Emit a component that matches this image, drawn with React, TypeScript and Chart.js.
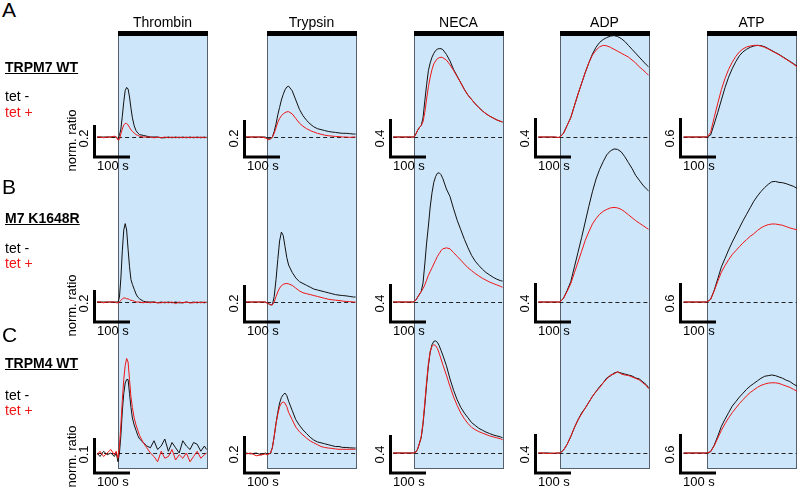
import React, { useEffect, useRef } from "react";
import { Chart, registerables } from "chart.js";

Chart.register(...registerables);

// ---------- labels ----------
const STIMULI = ["Thrombin", "Trypsin", "NECA", "ADP", "ATP"];
const ROW_LETTERS = ["A", "B", "C"];
const CONSTRUCTS = ["TRPM7 WT", "M7 K1648R", "TRPM4 WT"];
const TET_LABELS = ["tet -", "tet +"];
const Y_LABEL = "norm. ratio";
const SCALE_VALUES = [
  [0.2, 0.2, 0.4, 0.4, 0.6],
  [0.2, 0.2, 0.4, 0.4, 0.6],
  [0.1, 0.2, 0.4, 0.4, 0.6],
];
const SCALE_TIME = 100; // s
const TIME_LABEL = "100 s";
const STIM_END = 247; // s, end of agonist application window
const BASE_VALUE = 1.0;

// ---------- data: time (s) ----------
const T_THROMBIN = [-58, -50, -40, -30, -20, -10, -5, 0, 4, 8, 12, 16, 20, 24, 28, 32, 36, 40, 45, 50, 55, 60, 70, 80, 90, 100, 110, 120, 130, 140, 150, 160, 170, 180, 190, 200, 210, 220, 230, 240, 246];
const T_TRYPSIN = [-58, -45, -30, -15, -5, 0, 5, 10, 15, 20, 25, 30, 35, 40, 45, 50, 55, 60, 70, 80, 90, 100, 110, 120, 130, 140, 150, 160, 170, 180, 190, 200, 210, 220, 230, 240, 246];
const T_NECA = [-58, -45, -30, -15, -5, 0, 5, 10, 15, 20, 25, 30, 35, 40, 45, 50, 55, 60, 65, 70, 75, 80, 90, 100, 110, 120, 130, 140, 150, 160, 170, 180, 190, 200, 210, 220, 230, 240, 246];
const T_ADP = [-60, -45, -30, -15, -5, 0, 10, 20, 30, 40, 50, 60, 70, 80, 90, 100, 110, 120, 130, 140, 150, 160, 170, 180, 190, 200, 210, 220, 230, 240, 246];
const T_ATP = [-65, -50, -35, -20, -5, 0, 10, 20, 30, 40, 50, 60, 70, 80, 90, 100, 110, 120, 130, 140, 150, 160, 170, 180, 190, 200, 210, 220, 230, 240, 250];

// ---------- Thrombin ----------
const THR_A_NEG = [1.0, 1.0, 1.0, 1.0, 1.0, 1.0, 1.0, 0.99, 1.01, 1.05, 1.13, 1.22, 1.29, 1.31, 1.30, 1.25, 1.18, 1.12, 1.07, 1.04, 1.025, 1.015, 1.01, 1.005, 1.0, 1.0, 1.0, 0.995, 0.995, 1.0, 0.995, 1.0, 0.995, 1.0, 0.995, 1.0, 0.995, 1.0, 0.995, 1.0, 0.995];
const THR_A_POS = [1.0, 1.0, 0.995, 1.0, 1.0, 1.005, 1.0, 0.98, 0.985, 1.02, 1.05, 1.075, 1.085, 1.085, 1.075, 1.06, 1.045, 1.035, 1.025, 1.015, 1.01, 1.005, 1.0, 1.0, 1.0, 0.995, 1.0, 0.995, 1.0, 0.995, 1.0, 0.995, 1.0, 0.995, 1.0, 0.995, 1.0, 0.995, 1.0, 0.995, 1.0];
const THR_B_NEG = [1.0, 1.0, 1.0, 1.0, 1.0, 1.0, 1.0, 1.0, 1.03, 1.15, 1.32, 1.45, 1.49, 1.45, 1.33, 1.22, 1.14, 1.11, 1.08, 1.05, 1.03, 1.02, 1.005, 1.0, 1.0, 1.0, 0.995, 1.0, 0.995, 1.0, 0.995, 1.0, 0.995, 0.995, 1.0, 0.995, 1.0, 0.995, 1.0, 0.995, 1.0];
const THR_B_POS = [1.0, 1.0, 0.995, 1.0, 1.0, 1.0, 0.995, 0.995, 1.0, 1.01, 1.02, 1.025, 1.025, 1.02, 1.02, 1.015, 1.01, 1.01, 1.005, 1.0, 1.0, 1.0, 0.995, 1.0, 0.995, 1.0, 0.995, 0.995, 1.0, 0.995, 1.0, 0.99, 1.0, 0.995, 1.0, 0.995, 0.995, 1.0, 0.995, 1.0, 0.995];
const THR_C_NEG = [1.0, 0.99, 1.005, 0.995, 1.0, 0.99, 1.0, 0.975, 1.0, 1.05, 1.12, 1.17, 1.20, 1.21, 1.21, 1.17, 1.13, 1.10, 1.08, 1.065, 1.05, 1.04, 1.03, 1.02, 1.015, 1.035, 1.01, 1.02, 1.04, 1.005, 1.03, 1.015, 1.0, 1.035, 1.02, 1.01, 1.03, 1.025, 1.005, 1.02, 1.01];
const THR_C_POS = [0.995, 1.005, 0.99, 1.0, 1.01, 0.995, 1.005, 0.985, 1.02, 1.08, 1.15, 1.21, 1.25, 1.27, 1.26, 1.21, 1.16, 1.13, 1.10, 1.08, 1.065, 1.05, 1.03, 1.015, 1.0, 0.99, 0.975, 1.005, 0.985, 0.99, 1.01, 0.98, 0.995, 0.985, 1.0, 0.975, 0.99, 1.005, 0.985, 0.995, 1.0];

// ---------- Trypsin ----------
const TRY_A_NEG = [1.0, 1.0, 1.0, 1.0, 1.0, 0.995, 0.99, 0.99, 1.0, 1.03, 1.07, 1.12, 1.16, 1.20, 1.23, 1.255, 1.27, 1.275, 1.25, 1.20, 1.15, 1.115, 1.09, 1.07, 1.055, 1.045, 1.04, 1.035, 1.03, 1.027, 1.025, 1.022, 1.02, 1.02, 1.018, 1.016, 1.016];
const TRY_A_POS = [1.0, 1.0, 1.0, 1.0, 0.995, 0.99, 0.985, 0.99, 1.0, 1.02, 1.05, 1.08, 1.10, 1.115, 1.125, 1.132, 1.136, 1.137, 1.125, 1.10, 1.075, 1.058, 1.045, 1.035, 1.027, 1.02, 1.015, 1.01, 1.007, 1.005, 1.003, 1.002, 1.0, 1.0, 0.998, 1.0, 1.0];
const TRY_B_NEG = [1.0, 1.0, 1.0, 1.0, 1.0, 0.995, 0.99, 0.985, 0.985, 1.03, 1.12, 1.23, 1.33, 1.378, 1.36, 1.30, 1.24, 1.20, 1.16, 1.13, 1.11, 1.10, 1.09, 1.08, 1.07, 1.065, 1.06, 1.055, 1.05, 1.045, 1.04, 1.037, 1.035, 1.033, 1.03, 1.027, 1.027];
const TRY_B_POS = [1.0, 1.0, 1.0, 1.0, 1.0, 0.995, 0.99, 0.985, 0.985, 1.0, 1.03, 1.055, 1.075, 1.088, 1.095, 1.099, 1.10, 1.098, 1.09, 1.075, 1.06, 1.05, 1.045, 1.04, 1.035, 1.03, 1.025, 1.02, 1.015, 1.012, 1.01, 1.008, 1.005, 1.003, 1.002, 1.0, 1.0];
const TRY_C_NEG = [1.0, 0.995, 1.0, 0.99, 1.0, 0.995, 0.995, 1.0, 1.03, 1.09, 1.16, 1.22, 1.27, 1.30, 1.315, 1.324, 1.31, 1.28, 1.23, 1.18, 1.15, 1.125, 1.105, 1.085, 1.07, 1.06, 1.055, 1.05, 1.045, 1.04, 1.035, 1.035, 1.03, 1.03, 1.028, 1.027, 1.027];
const TRY_C_POS = [0.995, 1.0, 0.985, 0.99, 0.995, 0.99, 0.995, 1.0, 1.03, 1.09, 1.16, 1.21, 1.25, 1.27, 1.276, 1.27, 1.25, 1.22, 1.18, 1.14, 1.115, 1.097, 1.08, 1.065, 1.055, 1.045, 1.035, 1.03, 1.027, 1.025, 1.022, 1.02, 1.02, 1.02, 1.02, 1.02, 1.02];

// ---------- NECA ----------
const NEC_A_NEG = [1.0, 1.0, 1.0, 1.0, 1.0, 1.0, 1.03, 1.07, 1.10, 1.12, 1.20, 1.38, 1.55, 1.70, 1.78, 1.84, 1.88, 1.91, 1.925, 1.93, 1.93, 1.92, 1.87, 1.80, 1.71, 1.64, 1.57, 1.50, 1.44, 1.395, 1.35, 1.31, 1.275, 1.245, 1.22, 1.20, 1.18, 1.165, 1.158];
const NEC_A_POS = [1.0, 1.0, 1.0, 1.0, 1.0, 1.0, 1.03, 1.07, 1.10, 1.12, 1.16, 1.26, 1.40, 1.53, 1.63, 1.71, 1.77, 1.80, 1.825, 1.835, 1.84, 1.835, 1.81, 1.76, 1.70, 1.635, 1.57, 1.50, 1.44, 1.395, 1.35, 1.31, 1.275, 1.245, 1.22, 1.20, 1.18, 1.165, 1.158];
const NEC_B_NEG = [1.0, 1.0, 1.0, 1.0, 1.0, 1.0, 1.02, 1.05, 1.08, 1.11, 1.20, 1.40, 1.62, 1.80, 2.00, 2.15, 2.26, 2.32, 2.355, 2.36, 2.34, 2.30, 2.19, 2.11, 1.98, 1.86, 1.76, 1.66, 1.57, 1.49, 1.43, 1.385, 1.345, 1.31, 1.285, 1.26, 1.24, 1.225, 1.22];
const NEC_B_POS = [1.0, 1.0, 1.0, 1.0, 1.0, 1.0, 1.02, 1.05, 1.08, 1.11, 1.14, 1.18, 1.23, 1.28, 1.32, 1.36, 1.40, 1.44, 1.48, 1.51, 1.54, 1.56, 1.57, 1.56, 1.52, 1.48, 1.44, 1.40, 1.36, 1.33, 1.30, 1.275, 1.25, 1.23, 1.21, 1.195, 1.18, 1.165, 1.155];
const NEC_C_NEG = [1.0, 1.0, 1.0, 1.0, 1.0, 1.0, 1.01, 1.04, 1.10, 1.16, 1.30, 1.50, 1.72, 1.92, 2.06, 2.14, 2.175, 2.18, 2.165, 2.13, 2.08, 2.03, 1.92, 1.78, 1.66, 1.56, 1.48, 1.42, 1.37, 1.32, 1.29, 1.26, 1.24, 1.22, 1.205, 1.19, 1.18, 1.17, 1.16];
const NEC_C_POS = [1.0, 1.0, 1.0, 1.0, 1.0, 1.0, 1.01, 1.04, 1.10, 1.17, 1.32, 1.53, 1.75, 1.94, 2.07, 2.125, 2.14, 2.13, 2.10, 2.05, 1.99, 1.93, 1.82, 1.70, 1.59, 1.50, 1.42, 1.36, 1.31, 1.27, 1.245, 1.225, 1.21, 1.195, 1.18, 1.17, 1.16, 1.15, 1.14];

// ---------- ADP ----------
const ADP_A_NEG = [1.0, 1.0, 1.0, 1.0, 0.995, 1.0, 1.04, 1.12, 1.20, 1.32, 1.44, 1.55, 1.66, 1.76, 1.85, 1.92, 1.97, 2.00, 2.02, 2.035, 2.04, 2.03, 2.01, 1.98, 1.94, 1.90, 1.86, 1.82, 1.78, 1.74, 1.72];
const ADP_A_POS = [1.0, 1.0, 1.0, 1.0, 0.995, 1.0, 1.04, 1.12, 1.20, 1.32, 1.44, 1.55, 1.66, 1.76, 1.84, 1.89, 1.925, 1.94, 1.935, 1.92, 1.90, 1.88, 1.86, 1.84, 1.82, 1.79, 1.76, 1.72, 1.69, 1.655, 1.633];
const ADP_B_NEG = [1.0, 1.0, 1.0, 1.0, 1.0, 1.0, 1.04, 1.12, 1.21, 1.36, 1.51, 1.66, 1.82, 1.98, 2.13, 2.26, 2.36, 2.44, 2.51, 2.55, 2.57, 2.565, 2.54, 2.49, 2.43, 2.37, 2.30, 2.25, 2.20, 2.16, 2.14];
const ADP_B_POS = [1.0, 1.0, 1.0, 1.0, 1.0, 1.0, 1.04, 1.11, 1.19, 1.30, 1.41, 1.52, 1.63, 1.72, 1.80, 1.855, 1.90, 1.93, 1.95, 1.965, 1.97, 1.965, 1.95, 1.925, 1.895, 1.865, 1.835, 1.81, 1.785, 1.76, 1.746];
const ADP_C_NEG = [1.0, 1.0, 1.0, 0.995, 1.0, 1.0, 1.03, 1.09, 1.17, 1.26, 1.34, 1.41, 1.46, 1.52, 1.58, 1.63, 1.68, 1.72, 1.77, 1.79, 1.82, 1.83, 1.82, 1.81, 1.80, 1.79, 1.77, 1.76, 1.73, 1.70, 1.67];
const ADP_C_POS = [1.0, 1.0, 0.995, 1.0, 1.0, 1.0, 1.03, 1.09, 1.17, 1.26, 1.34, 1.40, 1.46, 1.52, 1.58, 1.63, 1.67, 1.72, 1.76, 1.80, 1.81, 1.835, 1.81, 1.80, 1.795, 1.78, 1.765, 1.75, 1.72, 1.69, 1.66];

// ---------- ATP ----------
const ATP_A_NEG = [1.0, 1.0, 1.0, 1.0, 1.0, 1.0, 1.03, 1.20, 1.38, 1.57, 1.76, 1.92, 2.05, 2.16, 2.25, 2.31, 2.35, 2.38, 2.40, 2.41, 2.405, 2.39, 2.36, 2.33, 2.30, 2.27, 2.235, 2.20, 2.165, 2.13, 2.09];
const ATP_A_POS = [1.0, 1.0, 1.0, 1.0, 1.0, 1.0, 1.07, 1.30, 1.52, 1.73, 1.90, 2.04, 2.15, 2.24, 2.31, 2.355, 2.385, 2.40, 2.41, 2.41, 2.40, 2.38, 2.355, 2.325, 2.295, 2.265, 2.23, 2.195, 2.16, 2.12, 2.08];
const ATP_B_NEG = [1.0, 1.0, 1.0, 1.0, 1.0, 1.0, 1.04, 1.18, 1.36, 1.54, 1.67, 1.80, 1.92, 2.03, 2.14, 2.25, 2.35, 2.45, 2.55, 2.63, 2.70, 2.76, 2.81, 2.85, 2.855, 2.84, 2.835, 2.82, 2.80, 2.78, 2.75];
const ATP_B_POS = [1.0, 1.0, 1.0, 1.0, 1.0, 1.0, 1.04, 1.17, 1.32, 1.46, 1.56, 1.65, 1.73, 1.79, 1.85, 1.91, 1.96, 2.01, 2.05, 2.10, 2.14, 2.17, 2.19, 2.20, 2.20, 2.19, 2.18, 2.16, 2.14, 2.125, 2.11];
const ATP_C_NEG = [1.0, 1.0, 1.0, 1.0, 1.0, 1.0, 1.02, 1.12, 1.26, 1.41, 1.52, 1.62, 1.72, 1.79, 1.86, 1.92, 1.98, 2.03, 2.07, 2.11, 2.15, 2.18, 2.19, 2.20, 2.19, 2.17, 2.15, 2.12, 2.10, 2.06, 2.03];
const ATP_C_POS = [1.0, 1.0, 1.0, 1.0, 1.0, 1.0, 1.02, 1.11, 1.23, 1.35, 1.45, 1.54, 1.62, 1.69, 1.76, 1.82, 1.88, 1.93, 1.97, 2.01, 2.04, 2.06, 2.075, 2.08, 2.08, 2.07, 2.05, 2.03, 2.01, 1.98, 1.95];

// table built from the named arrays
const PANELS = [
  { t: T_THROMBIN, rows: [[THR_A_NEG, THR_A_POS], [THR_B_NEG, THR_B_POS], [THR_C_NEG, THR_C_POS]] },
  { t: T_TRYPSIN, rows: [[TRY_A_NEG, TRY_A_POS], [TRY_B_NEG, TRY_B_POS], [TRY_C_NEG, TRY_C_POS]] },
  { t: T_NECA, rows: [[NEC_A_NEG, NEC_A_POS], [NEC_B_NEG, NEC_B_POS], [NEC_C_NEG, NEC_C_POS]] },
  { t: T_ADP, rows: [[ADP_A_NEG, ADP_A_POS], [ADP_B_NEG, ADP_B_POS], [ADP_C_NEG, ADP_C_POS]] },
  { t: T_ATP, rows: [[ATP_A_NEG, ATP_A_POS], [ATP_B_NEG, ATP_B_POS], [ATP_C_NEG, ATP_C_POS]] },
];

// ---------- layout / style ----------
const W = 800;
const H = 494;
const BOX_LEFT = [118, 267, 414, 560, 707];
const BAR_OFFSET = [24, 23, 24, 25, 27];
const BAR_PX = [
  [32, 37, 38, 39, 39],
  [32, 37, 38, 39, 39],
  [35, 37, 38, 39, 39],
];
const BASELINE_Y = [137, 302, 453];
const BAR_BELOW = 20;
const PX_PER_S = 0.36;
const CANVAS_PAD_L = 44;
const CANVAS_W = 140;
const BOX_TOP = 34;
const BOX_BOTTOM = 468;
const STIM_BAR_TOP = 31;
const STIM_BAR_H = 5;
const BOX_FILL = "rgb(205,230,250)";
const BOX_EDGE = "#55606a";
const BLACK = "#111";
const RED = "rgb(240,22,22)";
const FONT = "'Liberation Sans', Arial, Helvetica, sans-serif";
const ROW_TEXT_TOP = [
  { letter: -1, construct: 60, neg: 89, pos: 105 },
  { letter: 176, construct: 211, neg: 241, pos: 256 },
  { letter: 324, construct: 356, neg: 388, pos: 403 },
];

function Column({ col }: { col: number }) {
  const ref = useRef<HTMLCanvasElement | null>(null);
  useEffect(() => {
    if (!ref.current) return;
    const panel = PANELS[col];
    const tMin = -CANVAS_PAD_L / PX_PER_S;
    const tMax = (CANVAS_W - CANVAS_PAD_L) / PX_PER_S;
    const scales: any = {
      x: { type: "linear", min: tMin, max: tMax, display: false },
    };
    const datasets: any[] = [];
    for (let r = 0; r < 3; r++) {
      const ppu = BAR_PX[r][col] / SCALE_VALUES[r][col];
      scales["y" + r] = {
        type: "linear",
        display: false,
        min: BASE_VALUE - (H - BASELINE_Y[r]) / ppu,
        max: BASE_VALUE + BASELINE_Y[r] / ppu,
      };
      const [neg, pos] = panel.rows[r];
      datasets.push({
        label: TET_LABELS[0],
        data: panel.t.map((t, i) => ({ x: t, y: neg[i] })),
        yAxisID: "y" + r,
        borderColor: BLACK,
        borderWidth: 1,
        pointRadius: 0,
        tension: 0,
        order: 1,
      });
      datasets.push({
        label: TET_LABELS[1],
        data: panel.t.map((t, i) => ({ x: t, y: pos[i] })),
        yAxisID: "y" + r,
        borderColor: RED,
        borderWidth: 1,
        pointRadius: 0,
        tension: 0,
        order: 0,
      });
    }

    const decor = {
      id: "decor",
      beforeDatasetsDraw(chart: any) {
        const ctx = chart.ctx;
        const xs = chart.scales.x;
        const x0 = Math.round(xs.getPixelForValue(0)) + 0.5;
        const x1 = Math.round(xs.getPixelForValue(STIM_END)) + 0.5;
        ctx.save();
        ctx.fillStyle = BOX_FILL;
        ctx.fillRect(x0, BOX_TOP, x1 - x0, BOX_BOTTOM - BOX_TOP);
        ctx.strokeStyle = BOX_EDGE;
        ctx.lineWidth = 1;
        ctx.strokeRect(x0, BOX_TOP + 0.5, x1 - x0, BOX_BOTTOM - BOX_TOP);
        ctx.fillStyle = "#000";
        ctx.fillRect(x0 - 0.5, STIM_BAR_TOP, x1 - x0 + 1, STIM_BAR_H);
        ctx.strokeStyle = "#222";
        ctx.setLineDash([4, 3]);
        for (let r = 0; r < 3; r++) {
          const y = Math.round(chart.scales["y" + r].getPixelForValue(BASE_VALUE)) + 0.5;
          ctx.beginPath();
          ctx.moveTo(xs.getPixelForValue(panel.t[0]), y);
          ctx.lineTo(x1, y);
          ctx.stroke();
        }
        ctx.restore();
      },
      afterDatasetsDraw(chart: any) {
        const ctx = chart.ctx;
        const xs = chart.scales.x;
        const tBar = -BAR_OFFSET[col] / PX_PER_S;
        const xb = Math.round(xs.getPixelForValue(tBar)) + 0.5;
        const xe = xs.getPixelForValue(tBar + SCALE_TIME);
        ctx.save();
        ctx.strokeStyle = "#000";
        ctx.lineWidth = 3;
        ctx.lineJoin = "miter";
        ctx.lineCap = "butt";
        for (let r = 0; r < 3; r++) {
          const ys = chart.scales["y" + r];
          const bottom = ys.getPixelForValue(BASE_VALUE) + BAR_BELOW;
          const top = ys.getPixelForValue(BASE_VALUE + SCALE_VALUES[r][col]) + BAR_BELOW;
          ctx.beginPath();
          ctx.moveTo(xb, top);
          ctx.lineTo(xb, bottom);
          ctx.lineTo(xe, bottom);
          ctx.stroke();
        }
        ctx.restore();
      },
    };

    const chart = new Chart(ref.current, {
      type: "line",
      data: { datasets },
      options: {
        animation: false,
        responsive: false,
        devicePixelRatio: 1,
        layout: { padding: 0 },
        scales,
        plugins: { legend: { display: false }, tooltip: { enabled: false }, title: { display: false } },
        events: [],
      },
      plugins: [decor],
    } as any);
    return () => chart.destroy();
  }, [col]);

  return (
    <canvas
      ref={ref}
      width={CANVAS_W}
      height={H}
      style={{ position: "absolute", left: BOX_LEFT[col] - CANVAS_PAD_L, top: 0, width: CANVAS_W, height: H }}
    />
  );
}

function Rotated({ text, cx, cy, size }: { text: string; cx: number; cy: number; size: number }) {
  const w = 90;
  const h = size + 4;
  return (
    <div
      style={{
        position: "absolute",
        left: cx - w / 2,
        top: cy - h / 2,
        width: w,
        height: h,
        lineHeight: h + "px",
        textAlign: "center",
        fontSize: size,
        fontFamily: FONT,
        color: "#000",
        transform: "rotate(-90deg)",
        whiteSpace: "nowrap",
      }}
    >
      {text}
    </div>
  );
}

function fmt(v: number) {
  return v.toFixed(1);
}

export default function App() {
  const texts: React.ReactNode[] = [];
  STIMULI.forEach((s, c) => {
    texts.push(
      <div
        key={"title" + c}
        style={{
          position: "absolute",
          left: BOX_LEFT[c] - 20,
          width: 129,
          top: 14,
          lineHeight: "16px",
          textAlign: "center",
          fontSize: 14,
          fontFamily: FONT,
        }}
      >
        {s}
      </div>
    );
  });
  for (let r = 0; r < 3; r++) {
    const tt = ROW_TEXT_TOP[r];
    texts.push(
      <div key={"L" + r} style={{ position: "absolute", left: 2, top: tt.letter, fontSize: 21, lineHeight: "21px", fontFamily: FONT }}>
        {ROW_LETTERS[r]}
      </div>
    );
    texts.push(
      <div
        key={"K" + r}
        style={{ position: "absolute", left: 5, top: tt.construct, fontSize: 14, lineHeight: "14px", fontWeight: "bold", textDecoration: "underline", fontFamily: FONT, whiteSpace: "nowrap" }}
      >
        {CONSTRUCTS[r]}
      </div>
    );
    texts.push(
      <div key={"N" + r} style={{ position: "absolute", left: 5, top: tt.neg, fontSize: 14, lineHeight: "14px", fontFamily: FONT, color: "#000" }}>
        {TET_LABELS[0]}
      </div>
    );
    texts.push(
      <div key={"P" + r} style={{ position: "absolute", left: 5, top: tt.pos, fontSize: 14, lineHeight: "14px", fontFamily: FONT, color: RED }}>
        {TET_LABELS[1]}
      </div>
    );
    texts.push(<Rotated key={"Y" + r} text={Y_LABEL} cx={71} cy={BASELINE_Y[r] + 3} size={13} />);
    for (let c = 0; c < 5; c++) {
      const xb = BOX_LEFT[c] - BAR_OFFSET[c];
      texts.push(<Rotated key={"S" + r + c} text={fmt(SCALE_VALUES[r][c])} cx={xb - 11} cy={BASELINE_Y[r] + 1} size={13} />);
      texts.push(
        <div
          key={"T" + r + c}
          style={{ position: "absolute", left: xb + 3, top: BASELINE_Y[r] + BAR_BELOW + 2, fontSize: 13, lineHeight: "14px", fontFamily: FONT, whiteSpace: "nowrap" }}
        >
          {TIME_LABEL}
        </div>
      );
    }
  }

  return (
    <div style={{ position: "absolute", left: 0, top: 0, width: W, height: H, overflow: "hidden", background: "#fff" }}>
      {[0, 1, 2, 3, 4].map((c) => (
        <Column key={c} col={c} />
      ))}
      {texts}
    </div>
  );
}
